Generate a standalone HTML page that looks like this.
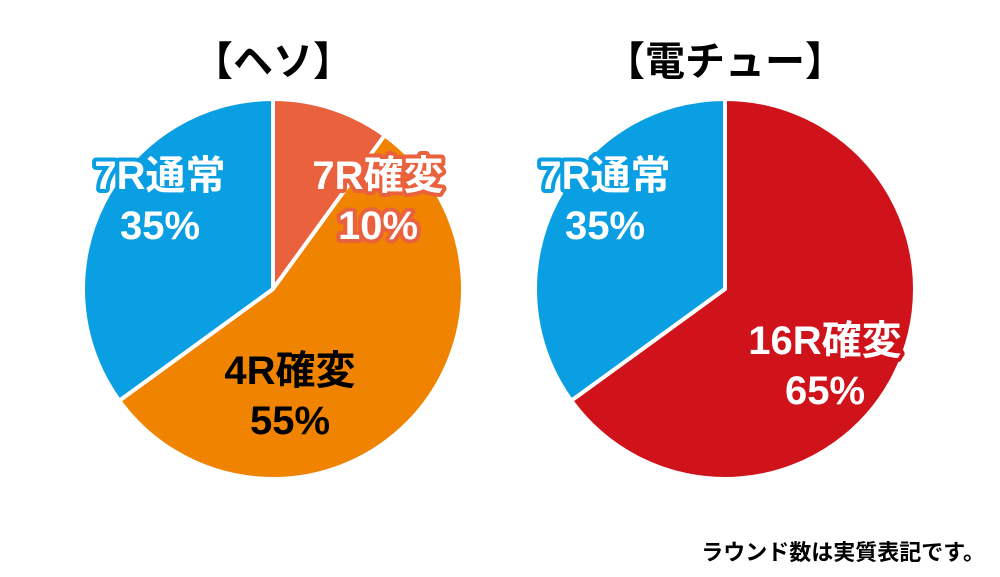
<!DOCTYPE html>
<html><head><meta charset="utf-8">
<style>
html,body{margin:0;padding:0;background:#fff;width:1000px;height:577px;overflow:hidden}
text{font-family:"Liberation Sans","Noto Sans CJK JP",sans-serif;font-weight:bold}
</style></head>
<body>
<svg id="chart" width="1000" height="577" viewBox="0 0 1000 577" xmlns="http://www.w3.org/2000/svg">
<text x="273" y="75" font-size="40" text-anchor="middle" fill="#000">【ヘソ】</text>
<text x="725" y="75" font-size="40" text-anchor="middle" fill="#000">【電チュー】</text>
<g id="pies"></g>
<g id="labels"></g>
<text x="985" y="560" font-size="22" text-anchor="end" fill="#000">ラウンド数は実質表記です。</text>
</svg>
<script>
const leftCats = ["7R確変","4R確変","7R通常"];
const leftVals = [10,55,35];
const rightCats = ["16R確変","7R通常"];
const rightVals = [65,35];
const leftColors = ["#ea613e","#f08300","#0a9fe3"];
const rightColors = ["#d0121b","#0a9fe3"];
const NS="http://www.w3.org/2000/svg";
const pies=document.getElementById('pies');
const labels=document.getElementById('labels');
function drawPie(cx,cy,r,vals,cats,colors,labelPos,textFill,name){
  const total=vals.reduce((a,b)=>a+b,0);
  let a0=0;
  vals.forEach((v,i)=>{
    const a1=a0+v/total*2*Math.PI;
    const x0=cx+r*Math.sin(a0),y0=cy-r*Math.cos(a0);
    const x1=cx+r*Math.sin(a1),y1=cy-r*Math.cos(a1);
    const large=(a1-a0)>Math.PI?1:0;
    const p=document.createElementNS(NS,'path');
    p.setAttribute('d',`M${cx},${cy} L${x0},${y0} A${r},${r} 0 ${large} 1 ${x1},${y1} Z`);
    p.setAttribute('fill',colors[i]);
    p.setAttribute('stroke','#fff');
    p.setAttribute('stroke-width','4');
    p.setAttribute('stroke-linejoin','round');
    
    
    pies.appendChild(p);
    const [lx,ly]=labelPos[i];
    [cats[i],v+'%'].forEach((s,j)=>{
      const t=document.createElementNS(NS,'text');
      t.setAttribute('x',lx);t.setAttribute('y',ly+14+j*50);
      t.setAttribute('font-size','40');
      t.setAttribute('text-anchor','middle');
      t.setAttribute('fill',textFill[i]);
      t.setAttribute('stroke',colors[i]);
      t.setAttribute('stroke-width','8');
      t.setAttribute('stroke-linejoin','round');
      t.setAttribute('paint-order','stroke');
      t.textContent=s;
      
      
      labels.appendChild(t);
    });
    a0=a1;
  });
}
drawPie(273,289,190,leftVals,leftCats,leftColors,[[378,175],[290,370],[160,175]],["#fff","#000","#fff"],'heso');
drawPie(725,289,190,rightVals,rightCats,rightColors,[[825,340],[605,175]],["#fff","#fff"],'denchu');
</script>
</body></html>
